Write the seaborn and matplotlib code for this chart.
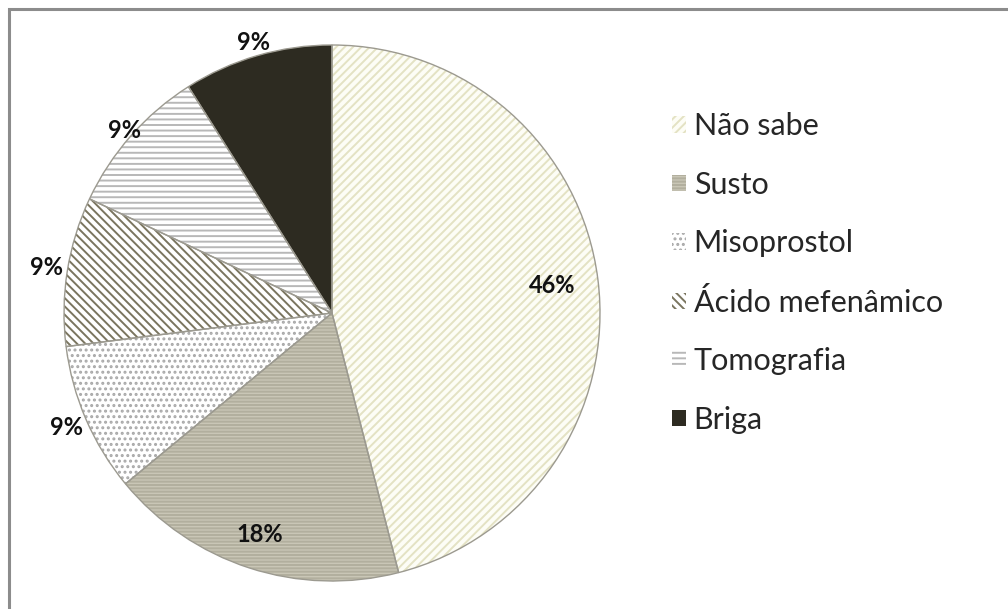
import seaborn as sns
import matplotlib.pyplot as plt
import numpy as np
from matplotlib.patches import Rectangle

# Data
categorias = ['Não sabe', 'Susto', 'Misoprostol', 'Ácido mefenâmico', 'Tomografia', 'Briga']
percentuais = [46, 18, 9, 9, 9, 9]

# Fill styles (Excel pattern look-alikes)
faces = ['#fdfdf6', '#c9c6b6', '#ffffff', '#ffffff', '#ffffff', '#2d2b21']
hatch_cores = ['#e4e2c4', '#b2af9e', '#a8a8a8', '#7a755f', '#b8b8b8', '#2d2b21']
hatches = ['////', '-----', '...', '\\\\\\\\', '---', '']
dist_rotulo = [0.83, 0.87, 1.08, 1.08, 1.03, 1.05]

sns.set_theme(style="white")
plt.rcParams['font.family'] = ['Lato', 'DejaVu Sans']
plt.rcParams['hatch.linewidth'] = 1.4

fig = plt.figure(figsize=(10.08, 6.09), dpi=100)
# center ~ (332, 313) px, radius ~ 268 px
r_px = 268
lim = 1.1
size = 2 * lim * r_px
ax = fig.add_axes([(332 - size / 2) / 1008, ((609 - 313) - size / 2) / 609,
                   size / 1008, size / 609])

wedges, _ = ax.pie(percentuais, startangle=90, counterclock=False,
                   colors=faces, wedgeprops=dict(linewidth=0))
for w, h, hc in zip(wedges, hatches, hatch_cores):
    w.set_hatch(h)
    w.set_edgecolor(hc)

# outline on top
ax.pie(percentuais, startangle=90, counterclock=False,
       colors=['none'] * len(percentuais),
       wedgeprops=dict(linewidth=1.0, edgecolor='#9c9a90'))

for w, v, d in zip(wedges, percentuais, dist_rotulo):
    ang = np.deg2rad((w.theta1 + w.theta2) / 2)
    ax.text(d * np.cos(ang), d * np.sin(ang), f'{v}%', ha='center', va='center',
            fontsize=17, fontweight='bold', color='#111111')

ax.set_xlim(-lim, lim)
ax.set_ylim(-lim, lim)
ax.set_aspect('equal')
ax.axis('off')

leg = fig.legend(wedges, categorias, loc='upper left',
                 bbox_to_anchor=(660 / 1008, 1 - 100 / 609), frameon=False,
                 fontsize=22, handlelength=0.45, handleheight=0.45,
                 handletextpad=0.25, labelspacing=1.0, borderaxespad=0)

# gray frame (only top/left visible in the reference crop)
fig.add_artist(Rectangle((9 / 1008, -0.1), 1.2, 1.1 - 9 / 609, transform=fig.transFigure,
                         fill=False, edgecolor='#8c8c8c', linewidth=2.2))

fig.savefig('out.png', dpi=100)
